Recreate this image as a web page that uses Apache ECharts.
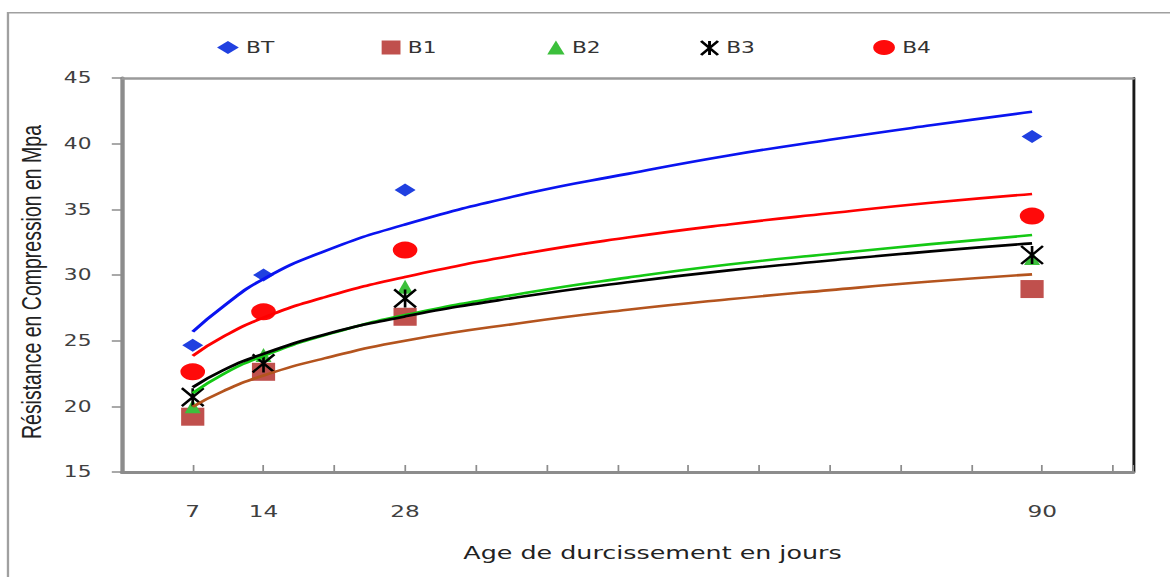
<!DOCTYPE html>
<html>
<head>
<meta charset="utf-8">
<script src="https://cdn.jsdelivr.net/npm/echarts@6/dist/echarts.min.js"></script>
<style>
  html, body { margin: 0; padding: 0; background: #fff; }
  #frame { width: 1170px; height: 577px; overflow: hidden; position: relative; }
  #chart { position: absolute; left: 0; top: 0; height: 577px; transform-origin: 0 0; }
</style>
</head>
<body>
<div id="frame"><div id="chart"></div></div>
<script>
// Curing age (days) and compressive strength (MPa) per concrete mix
const ages = [7, 14, 28, 90];
const ageLabels = ['7', '14', '28', '90'];
const mixNames = ['BT', 'B1', 'B2', 'B3', 'B4'];

const strengthBT = [24.66, 30.0, 36.47, 40.54];
const strengthB1 = [19.21, 22.63, 26.82, 28.93];
const strengthB2 = [20.0, 23.9, 29.1, 31.3];
const strengthB3 = [20.7, 23.27, 28.22, 31.52];
const strengthB4 = [22.63, 27.2, 31.9, 34.49];

// Trend curves, sampled along the age axis
const trendAges = [7, 10, 14, 20, 28, 40, 50, 60, 70, 80, 90];
const trendBT = [25.68, 27.6, 29.7, 31.8, 33.85, 36.2, 37.7, 39.1, 40.3, 41.4, 42.43];
const trendB1 = [19.97, 21.15, 22.35, 23.65, 25.0, 26.4, 27.35, 28.15, 28.85, 29.5, 30.05];
const trendB2 = [21.0, 22.45, 23.85, 25.4, 26.95, 28.65, 29.8, 30.8, 31.6, 32.35, 33.04];
const trendB3 = [21.45, 22.75, 24.0, 25.45, 26.85, 28.4, 29.45, 30.35, 31.1, 31.8, 32.41];
const trendB4 = [23.85, 25.3, 26.75, 28.3, 29.85, 31.65, 32.85, 33.85, 34.7, 35.5, 36.17];

// The drawing is laid out on a narrower canvas and widened horizontally
const STRETCH = 1.45;
const W = 1170 / STRETCH;
const el = document.getElementById('chart');
el.style.width = W + 'px';
el.style.transform = 'scaleX(' + STRETCH + ')';

const starPath = 'path://M0,0L10,12M10,0L0,12M5,0L5,12';

const markers = [
  { name: 'BT', values: strengthBT, symbol: 'diamond', size: [14.5, 13], color: '#2040e0' },
  { name: 'B1', values: strengthB1, symbol: 'rect', size: [16, 18], color: '#c0504d' },
  { name: 'B2', values: strengthB2, symbol: 'triangle', size: [11, 14], color: '#3cc03c' },
  { name: 'B3', values: strengthB3, symbol: starPath, size: [15, 18], color: '#000000', border: 2 },
  { name: 'B4', values: strengthB4, symbol: 'circle', size: [17, 17], color: '#ff0a0a' }
];

const trends = [
  { values: trendBT, color: '#0a14f0' },
  { values: trendB1, color: '#b4541e' },
  { values: trendB2, color: '#14c814' },
  { values: trendB3, color: '#000000' },
  { values: trendB4, color: '#ff0000' }
];

// legend icon centres (x) and icon sizes
const legendSpots = [
  { x: 157.2, w: 15, h: 13 },
  { x: 269.7, w: 13, h: 14 },
  { x: 383.4, w: 12, h: 14 },
  { x: 489.0, w: 13, h: 14 },
  { x: 609.7, w: 15, h: 15 }
];

const fontSans = 'DejaVu Sans';

const series = [];
markers.forEach(function (m) {
  series.push({
    name: m.name,
    type: 'scatter',
    symbol: m.symbol,
    symbolSize: m.size,
    z: 2,
    itemStyle: m.border
      ? { color: m.color, borderColor: m.color, borderWidth: m.border, opacity: 1 }
      : { color: m.color, opacity: 1 },
    data: ages.map(function (a, i) { return [a, m.values[i]]; })
  });
});
trends.forEach(function (t, k) {
  series.push({
    name: mixNames[k] + ' (tendance)',
    type: 'line',
    smooth: 0.5,
    symbol: 'none',
    silent: true,
    z: 3,
    lineStyle: { color: t.color, width: 2.6 },
    data: trendAges.map(function (a, i) { return [a, t.values[i]]; })
  });
});

const legends = mixNames.map(function (n, i) {
  const s = legendSpots[i];
  return {
    data: [n],
    left: s.x - s.w / 2,
    top: 40,
    padding: 0,
    itemWidth: s.w,
    itemHeight: s.h,
    itemGap: 0,
    selectedMode: false,
    textStyle: { fontFamily: fontSans, fontSize: 15, color: '#333333' }
  };
});

function ageTickLabel(v) {
  for (let i = 0; i < ages.length; i++) {
    if (Math.abs(ages[i] - v) < 3.5) return ageLabels[i];
  }
  return '';
}

const chart = echarts.init(el, null, { renderer: 'svg' });
chart.setOption({
  animation: false,
  backgroundColor: '#ffffff',
  grid: { left: 84.1, right: W - 781.4, top: 78, bottom: 105, outerBoundsMode: 'none', containLabel: false },
  legend: legends,
  xAxis: [
    {
      type: 'value', min: 0, max: 100, interval: 7, position: 'bottom',
      axisLine: { show: true, onZero: false, lineStyle: { color: '#8c8c8c', width: 3 } },
      axisTick: { show: true, inside: true, length: 7, lineStyle: { color: '#8c8c8c', width: 1.2 } },
      axisLabel: { formatter: ageTickLabel, margin: 32, fontFamily: fontSans, fontSize: 16, color: '#404040' },
      splitLine: { show: false }
    },
    {
      type: 'value', min: 0, max: 100, position: 'top',
      axisLine: { show: true, onZero: false, lineStyle: { color: '#9a9a9a', width: 2.5 } },
      axisTick: { show: false }, axisLabel: { show: false }, splitLine: { show: false }
    }
  ],
  yAxis: [
    {
      type: 'value', min: 15, max: 45, interval: 5, position: 'left',
      axisLine: { show: true, onZero: false, lineStyle: { color: '#8c8c8c', width: 3 } },
      axisTick: { show: true, length: 7, lineStyle: { color: '#8c8c8c', width: 1.5 } },
      axisLabel: { margin: 21, fontFamily: fontSans, fontSize: 15, color: '#404040' },
      splitLine: { show: false }
    },
    {
      type: 'value', min: 15, max: 45, position: 'right',
      axisLine: { show: true, onZero: false, lineStyle: { color: '#1a1a1a', width: 2 } },
      axisTick: { show: false }, axisLabel: { show: false }, splitLine: { show: false }
    }
  ],
  graphic: [
    {
      type: 'rect', silent: true, z: -10,
      shape: { x: 5.5, y: 12.7, width: 2000, height: 1000 },
      style: { fill: 'none', stroke: '#a0a0a0', lineWidth: 1.6 }
    },
    {
      type: 'text', x: 21.4, y: 282, rotation: Math.PI / 2, silent: true,
      style: {
        text: 'Résistance en Compression en Mpa',
        fontFamily: 'Liberation Sans', fontSize: 19.5, fill: '#222222',
        align: 'center', verticalAlign: 'middle'
      }
    },
    {
      type: 'text', x: 450, y: 553, silent: true,
      style: {
        text: 'Age de durcissement en jours',
        fontFamily: fontSans, fontSize: 17.5, fill: '#222222',
        align: 'center', verticalAlign: 'middle'
      }
    }
  ],
  series: series
});
</script>
</body>
</html>
